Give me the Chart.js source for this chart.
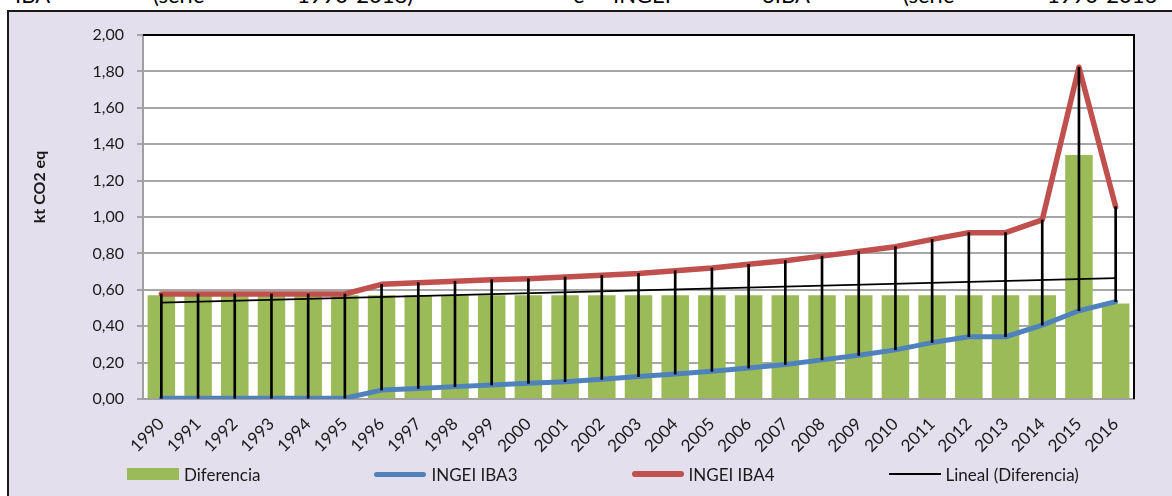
<!DOCTYPE html>
<html><head><meta charset="utf-8">
<script src="https://cdn.jsdelivr.net/npm/chart.js@4.4.1/dist/chart.umd.min.js"></script>
<style>
html,body{margin:0;padding:0;width:1172px;height:496px;overflow:hidden;background:#fff;font-family:Lato, "Open Sans", sans-serif;}
#frame{position:absolute;left:7px;top:10px;width:1300px;height:600px;border:2px solid #1a1a1a;background:#E4DFEC;box-sizing:border-box;}
#c{position:absolute;left:0;top:0;}
.hw{position:absolute;top:-16px;font-size:22px;line-height:22px;color:#000;white-space:nowrap;}
#legend{position:absolute;left:127px;top:462px;height:24px;display:flex;align-items:center;font-size:17px;color:#1a1a1a;white-space:nowrap;}
.li{display:flex;align-items:center;margin-right:114px;}
.sw{width:52px;margin-right:5px;}
</style></head>
<body>
<div id="frame"></div>
<div class="hw" style="left:15px">IBA</div>
<div class="hw" style="left:153px">(serie</div>
<div class="hw" style="left:297px">1990-2018)</div>
<div class="hw" style="left:573px">e</div>
<div class="hw" style="left:613px">INGEI</div>
<div class="hw" style="left:762px">3IBA</div>
<div class="hw" style="left:903px">(serie</div>
<div class="hw" style="left:1047px">1990-2016</div>
<canvas id="c" width="1172" height="496"></canvas>
<div id="legend"></div>
<script>
const years = ['1990','1991','1992','1993','1994','1995','1996','1997','1998','1999','2000','2001','2002','2003','2004','2005','2006','2007','2008','2009','2010','2011','2012','2013','2014','2015','2016'];
const diferencia = [0.57,0.57,0.57,0.57,0.57,0.57,0.57,0.57,0.57,0.57,0.57,0.57,0.57,0.57,0.57,0.57,0.57,0.57,0.57,0.57,0.57,0.57,0.57,0.57,0.57,1.34,0.525];
const ingeiIBA3 = [0.004,0.004,0.004,0.004,0.004,0.004,0.049,0.058,0.068,0.077,0.086,0.095,0.108,0.123,0.137,0.152,0.17,0.19,0.215,0.24,0.27,0.31,0.342,0.342,0.406,0.485,0.535];
const ingeiIBA4 = [0.577,0.577,0.577,0.577,0.577,0.577,0.63,0.639,0.647,0.655,0.661,0.67,0.68,0.69,0.705,0.72,0.74,0.76,0.785,0.81,0.837,0.877,0.914,0.914,0.984,1.823,1.057];
const linealEnds = [0.529, 0.664];
const seriesNames = ['Diferencia','INGEI IBA3','INGEI IBA4','Lineal (Diferencia)'];

const C_GREEN = '#9BBB59', C_BLUE = '#4F81BD', C_RED = '#C0504D', C_BLACK = '#000000';
const FONT = 'Lato';

const plotDeco = {
  id: 'plotDeco',
  beforeDraw(chart) {
    const {ctx, chartArea: a} = chart;
    ctx.save();
    ctx.fillStyle = '#ffffff';
    ctx.fillRect(a.left, a.top, a.right - a.left, a.bottom - a.top);
    ctx.restore();
  },
  afterDraw(chart) {
    const {ctx, chartArea: a} = chart;
    ctx.save();
    ctx.strokeStyle = '#000';
    ctx.lineWidth = 2;
    ctx.beginPath();
    ctx.moveTo(a.left, a.top);
    ctx.lineTo(a.right, a.top);
    ctx.lineTo(a.right, a.bottom);
    ctx.stroke();
    ctx.translate(40, 187);
    ctx.rotate(-Math.PI / 2);
    ctx.font = 'bold 16px ' + FONT;
    ctx.fillStyle = '#1a1a1a';
    ctx.textAlign = 'center';
    ctx.textBaseline = 'middle';
    ctx.fillText('kt CO2 eq', 0, 0);
    ctx.restore();
  }
};

function build() {
  new Chart(document.getElementById('c'), {
    type: 'bar',
    data: {
      labels: years,
      datasets: [
        {type: 'bar', label: 'hl', data: years.map((_, i) => [ingeiIBA3[i], ingeiIBA4[i]]),
         backgroundColor: C_BLACK, barThickness: 2, grouped: false, order: 0},
        {type: 'line', label: seriesNames[2], data: ingeiIBA4, borderColor: C_RED, backgroundColor: C_RED,
         borderWidth: 5.5, pointRadius: 0, tension: 0, borderCapStyle: 'round', borderJoinStyle: 'round', order: 1},
        {type: 'line', label: seriesNames[1], data: ingeiIBA3, borderColor: C_BLUE, backgroundColor: C_BLUE,
         borderWidth: 5, pointRadius: 0, tension: 0, borderCapStyle: 'round', borderJoinStyle: 'round', order: 2},
        {type: 'line', label: seriesNames[3], data: [{x: years[0], y: linealEnds[0]}, {x: years[years.length - 1], y: linealEnds[1]}],
         borderColor: C_BLACK, borderWidth: 1.8, pointRadius: 0, order: 3},
        {type: 'bar', label: seriesNames[0], data: diferencia, backgroundColor: C_GREEN,
         barPercentage: 0.75, categoryPercentage: 1.0, order: 4}
      ]
    },
    options: {
      responsive: false, animation: false, devicePixelRatio: 1,
      layout: {padding: {top: 35, right: 38, left: 0, bottom: 0}},
      plugins: {legend: {display: false}, tooltip: {enabled: false}},
      scales: {
        x: {
          offset: true,
          grid: {display: false},
          border: {display: true, color: '#a0a0a0', width: 2},
          ticks: {autoSkip: false, minRotation: 45, maxRotation: 45, padding: 7, color: '#1a1a1a', font: {family: FONT, size: 17}},
          afterFit(s) { s.height = 97; }
        },
        y: {
          min: 0, max: 2,
          ticks: {stepSize: 0.2, padding: 13, color: '#1a1a1a', font: {family: FONT, size: 16},
                  callback: v => Number(v).toFixed(2).replace('.', ',')},
          grid: {color: '#a6a6a6', lineWidth: 2, tickLength: 6, drawTicks: true},
          border: {display: true, color: '#a0a0a0', width: 2},
          afterFit(s) { s.width = 143; }
        }
      }
    },
    plugins: [plotDeco]
  });

  const lg = document.getElementById('legend');
  const swatches = [
    {name: seriesNames[0], css: 'height:12px;background:' + C_GREEN},
    {name: seriesNames[1], css: 'height:5px;border-radius:3px;background:' + C_BLUE},
    {name: seriesNames[2], css: 'height:6px;border-radius:3px;background:' + C_RED},
    {name: seriesNames[3], css: 'height:2px;background:' + C_BLACK}
  ];
  swatches.forEach(s => {
    const it = document.createElement('div'); it.className = 'li';
    const sw = document.createElement('div'); sw.className = 'sw'; sw.style.cssText = s.css;
    const tx = document.createElement('span'); tx.textContent = s.name;
    it.appendChild(sw); it.appendChild(tx); lg.appendChild(it);
  });
}

const fontLoads = document.fonts ? Promise.all([
  document.fonts.load('16px Lato'), document.fonts.load('bold 16px Lato')
]).catch(() => {}) : Promise.resolve();
fontLoads.then(build, build);
</script>
</body></html>
